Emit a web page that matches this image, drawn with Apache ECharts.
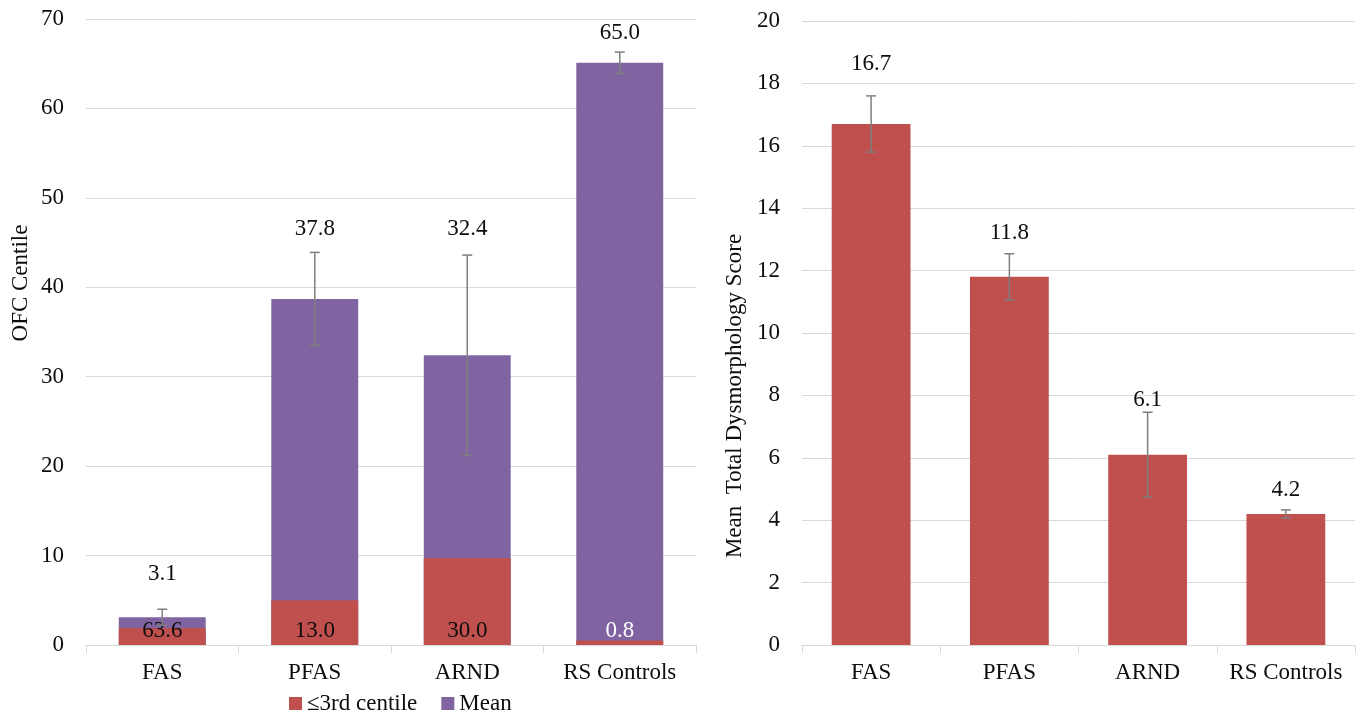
<!DOCTYPE html>
<html>
<head>
<meta charset="utf-8">
<script src="https://cdn.jsdelivr.net/npm/echarts@6/dist/echarts.min.js"></script>
<style>
  html, body { margin: 0; padding: 0; background: #fff; }
  #main { width: 1359px; height: 715px; }
</style>
</head>
<body>
<div id="main"></div>
<script>
// groups on both charts
var groups = ['FAS', 'PFAS', 'ARND', 'RS Controls'];

// left chart: OFC centile
var ofcMean = [3.1, 38.7, 32.4, 65.1];
var ofcMeanErr = [0.9, 5.2, 11.2, 1.2];
var ofcMeanText = ['3.1', '37.8', '32.4', '65.0'];
var ofcMeanTextAt = [8.0, 46.5, 46.5, 68.4];
var ofcLow = [1.9, 5.0, 9.7, 0.5];
var ofcLowText = ['63.6', '13.0', '30.0', '0.8'];

// right chart: mean total dysmorphology score
var dysMean = [16.7, 11.8, 6.1, 4.2];
var dysErr = [0.9, 0.74, 1.36, 0.13];
var dysText = ['16.7', '11.8', '6.1', '4.2'];
var dysTextAt = [18.63, 13.22, 7.87, 4.96];

var RED = '#C0504D', PURPLE = '#8064A2', GRID = '#d9d9d9', ERR = '#7f7f7f';
var FONT = 'Liberation Serif';
var FS = 23;
var INK = '#0d0d0d';

function errData(vals, errs) {
  return vals.map(function (v, i) { return [i, v - errs[i], v + errs[i]]; });
}

function renderErr(params, api) {
  var lo = api.coord([api.value(0), api.value(1)]);
  var hi = api.coord([api.value(0), api.value(2)]);
  var w = 5;
  var st = { stroke: ERR, lineWidth: 1.5 };
  return {
    type: 'group',
    children: [
      { type: 'line', shape: { x1: hi[0], y1: hi[1], x2: lo[0], y2: lo[1] }, style: st },
      { type: 'line', shape: { x1: hi[0] - w, y1: hi[1], x2: hi[0] + w, y2: hi[1] }, style: st },
      { type: 'line', shape: { x1: lo[0] - w, y1: lo[1], x2: lo[0] + w, y2: lo[1] }, style: st }
    ]
  };
}

function xAx(gi) {
  return {
    type: 'category', gridIndex: gi, data: groups,
    axisLine: { lineStyle: { color: GRID, width: 1 } },
    axisTick: { show: true, length: 8, lineStyle: { color: GRID } },
    axisLabel: { color: INK, fontFamily: FONT, fontSize: FS, margin: 16, interval: 0 }
  };
}
function yAx(gi, max, step) {
  return {
    type: 'value', gridIndex: gi, min: 0, max: max, interval: step,
    axisLine: { show: false }, axisTick: { show: false },
    splitLine: { lineStyle: { color: GRID, width: 1 } },
    axisLabel: { color: INK, fontFamily: FONT, fontSize: FS, margin: 22 }
  };
}
function textSeries(xi, anchors, texts) {
  return {
    type: 'scatter', xAxisIndex: xi, yAxisIndex: xi, symbolSize: 0, silent: true,
    itemStyle: { opacity: 1 },
    data: anchors.map(function (a, i) { return [i, a]; }),
    label: {
      show: true, position: 'inside', color: INK, fontFamily: FONT, fontSize: FS,
      formatter: function (p) { return texts[p.dataIndex]; }
    },
    z: 5
  };
}

var option = {
  animation: false,
  backgroundColor: '#fff',
  grid: [
    { left: 86, right: 663, top: 19, bottom: 70 },
    { left: 802, right: 4, top: 21, bottom: 70 }
  ],
  legend: {
    left: 284, top: 687, itemWidth: 13, itemHeight: 13, itemGap: 24,
    data: ['≤3rd centile', 'Mean'],
    textStyle: { color: INK, fontFamily: FONT, fontSize: FS },
    icon: 'rect'
  },
  graphic: [
    { type: 'text', x: 21, y: 283, rotation: Math.PI / 2,
      style: { text: 'OFC Centile', font: FS + 'px "' + FONT + '"', fill: INK, textAlign: 'center', textVerticalAlign: 'middle' } },
    { type: 'text', x: 735, y: 396, rotation: Math.PI / 2,
      style: { text: 'Mean  Total Dysmorphology Score', font: FS + 'px "' + FONT + '"', fill: INK, textAlign: 'center', textVerticalAlign: 'middle' } }
  ],
  xAxis: [xAx(0), xAx(1)],
  yAxis: [yAx(0, 70, 10), yAx(1, 20, 2)],
  series: [
    {
      name: 'Mean', type: 'bar', xAxisIndex: 0, yAxisIndex: 0,
      barWidth: '57%', barGap: '-100%',
      itemStyle: { color: PURPLE },
      data: ofcMean
    },
    {
      name: '≤3rd centile', type: 'bar', xAxisIndex: 0, yAxisIndex: 0,
      barWidth: '57%', barGap: '-100%',
      itemStyle: { color: RED },
      data: ofcLow.map(function (v, i) {
        return { value: v, label: { color: i === 3 ? '#fff' : INK } };
      }),
      label: {
        show: true, position: 'insideBottom', distance: 3,
        fontFamily: FONT, fontSize: FS,
        formatter: function (p) { return ofcLowText[p.dataIndex]; }
      }
    },
    {
      type: 'custom', xAxisIndex: 0, yAxisIndex: 0, silent: true,
      renderItem: renderErr, encode: { x: 0, y: [1, 2] },
      data: errData(ofcMean, ofcMeanErr), z: 4
    },
    textSeries(0, ofcMeanTextAt, ofcMeanText),
    {
      name: 'Score', type: 'bar', xAxisIndex: 1, yAxisIndex: 1,
      barWidth: '57%',
      itemStyle: { color: RED },
      data: dysMean
    },
    {
      type: 'custom', xAxisIndex: 1, yAxisIndex: 1, silent: true,
      renderItem: renderErr, encode: { x: 0, y: [1, 2] },
      data: errData(dysMean, dysErr), z: 4
    },
    textSeries(1, dysTextAt, dysText)
  ]
};

var chart = echarts.init(document.getElementById('main'));
chart.setOption(option);
</script>
</body>
</html>
